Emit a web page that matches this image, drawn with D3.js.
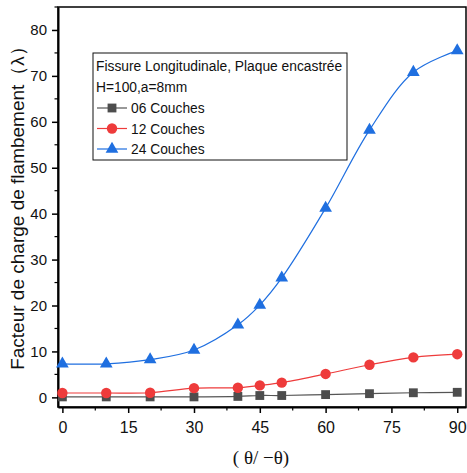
<!DOCTYPE html>
<html>
<head>
<meta charset="utf-8">
<script src="https://cdn.jsdelivr.net/npm/d3@7"></script>
<style>
  body { margin: 0; background: #fff; }
  svg { display: block; font-family: "Liberation Sans", Arial, sans-serif; }
</style>
</head>
<body>
<svg id="chart" width="467" height="473"></svg>
<script>
// angles (x) and buckling load factor for each layer count
const angles = [0, 10, 20, 30, 40, 45, 50, 60, 70, 80, 90];
const couches06 = [0.1, 0.1, 0.1, 0.1, 0.2, 0.4, 0.4, 0.6, 0.8, 1.0, 1.1];
const couches12 = [0.95, 0.95, 1.0, 2.0, 2.1, 2.6, 3.2, 5.1, 7.1, 8.7, 9.4];
const couches24 = [7.3, 7.3, 8.2, 10.3, 15.8, 20.1, 26.0, 41.2, 58.2, 70.8, 75.5];
const xTicks = [0, 15, 30, 45, 60, 75, 90];
const yTicks = [0, 10, 20, 30, 40, 50, 60, 70, 80];

const series = [
  { name: "06 Couches", values: couches06, color: "#4d4d4d", line: "#555", symbol: d3.symbolSquare, size: 78 },
  { name: "12 Couches", values: couches12, color: "#ee3b3b", line: "#ee3b3b", symbol: d3.symbolCircle, size: 85 },
  { name: "24 Couches", values: couches24, color: "#1f6fe0", line: "#1f6fe0", symbol: d3.symbolTriangle, size: 70 }
];

const svg = d3.select("#chart");
const x = d3.scaleLinear().domain([-1, 92]).range([58, 466]);
const y = d3.scaleLinear().domain([-2.1, 85]).range([407, 7]);

// frame
svg.append("rect")
  .attr("x", 58).attr("y", 7)
  .attr("width", 408).attr("height", 400)
  .attr("fill", "none").attr("stroke", "#000").attr("stroke-width", 1.5);

// x axis
const xAxis = svg.append("g").attr("transform", "translate(0,407)");
xAxis.call(d3.axisBottom(x).tickValues(xTicks).tickSize(6).tickSizeOuter(0).tickPadding(9))
  .call(g => g.select(".domain").attr("stroke-width", 2))
  .call(g => g.selectAll(".tick line").attr("stroke-width", 1.5))
  .call(g => g.selectAll("text").attr("font-size", 16).attr("fill", "#111")
    .attr("font-family", "'Liberation Sans', Arial, sans-serif"));
xAxis.selectAll(".minor")
  .data(d3.range(7.5, 91, 15))
  .join("line")
  .attr("x1", d => x(d)).attr("x2", d => x(d))
  .attr("y1", 0).attr("y2", 3.5)
  .attr("stroke", "#000").attr("stroke-width", 1.2);

// y axis
const yAxis = svg.append("g").attr("transform", "translate(58,0)");
yAxis.call(d3.axisLeft(y).tickValues(yTicks).tickSize(6).tickSizeOuter(0).tickPadding(5))
  .call(g => g.select(".domain").attr("stroke-width", 2))
  .call(g => g.selectAll(".tick line").attr("stroke-width", 1.5))
  .call(g => g.selectAll("text").attr("font-size", 15).attr("fill", "#111")
    .attr("font-family", "'Liberation Sans', Arial, sans-serif"));
yAxis.selectAll(".minor")
  .data(d3.range(5, 86, 10))
  .join("line")
  .attr("x1", 0).attr("x2", -3.5)
  .attr("y1", d => y(d)).attr("y2", d => y(d))
  .attr("stroke", "#000").attr("stroke-width", 1.2);

// axis titles
svg.append("text")
  .attr("transform", `translate(24,${(383 + 24) / 2}) rotate(-90)`)
  .attr("text-anchor", "middle")
  .attr("font-size", 19)
  .attr("fill", "#111")
  .text("Facteur de charge de flambement（λ）");

svg.append("text")
  .attr("x", 261).attr("y", 464)
  .attr("text-anchor", "middle")
  .attr("font-family", "'Liberation Serif', 'Times New Roman', serif")
  .attr("font-size", 19)
  .attr("fill", "#111")
  .text("( θ/ −θ)");

// lines and markers
const line = d3.line()
  .x(d => x(d[0])).y(d => y(d[1]))
  .curve(d3.curveCatmullRom.alpha(0.5));

series.forEach(s => {
  const pts = angles.map((a, i) => [a, s.values[i]]);
  svg.append("path")
    .attr("d", line(pts))
    .attr("fill", "none")
    .attr("stroke", s.line)
    .attr("stroke-width", 1.2);
  svg.append("g").selectAll("path")
    .data(pts)
    .join("path")
    .attr("transform", d => `translate(${x(d[0])},${y(d[1])})`)
    .attr("d", d3.symbol(s.symbol, s.size))
    .attr("fill", s.color);
});

// legend
const legend = svg.append("g");
legend.append("rect")
  .attr("x", 93).attr("y", 53)
  .attr("width", 254).attr("height", 107)
  .attr("fill", "#fff").attr("stroke", "#111").attr("stroke-width", 1);
legend.append("text").attr("x", 96).attr("y", 71)
  .attr("font-size", 13.8).attr("fill", "#111")
  .text("Fissure Longitudinale, Plaque encastrée");
legend.append("text").attr("x", 96).attr("y", 92)
  .attr("font-size", 13.8).attr("fill", "#111")
  .text("H=100,a=8mm");
series.forEach((s, i) => {
  const cy = 108 + i * 20.5;
  legend.append("line")
    .attr("x1", 97).attr("x2", 127).attr("y1", cy).attr("y2", cy)
    .attr("stroke", s.line).attr("stroke-width", 1.2);
  legend.append("path")
    .attr("transform", `translate(112,${cy})`)
    .attr("d", d3.symbol(s.symbol, s.size))
    .attr("fill", s.color);
  legend.append("text").attr("x", 131).attr("y", cy + 5)
    .attr("font-size", 13.8).attr("fill", "#111")
    .text(s.name);
});
</script>
</body>
</html>
